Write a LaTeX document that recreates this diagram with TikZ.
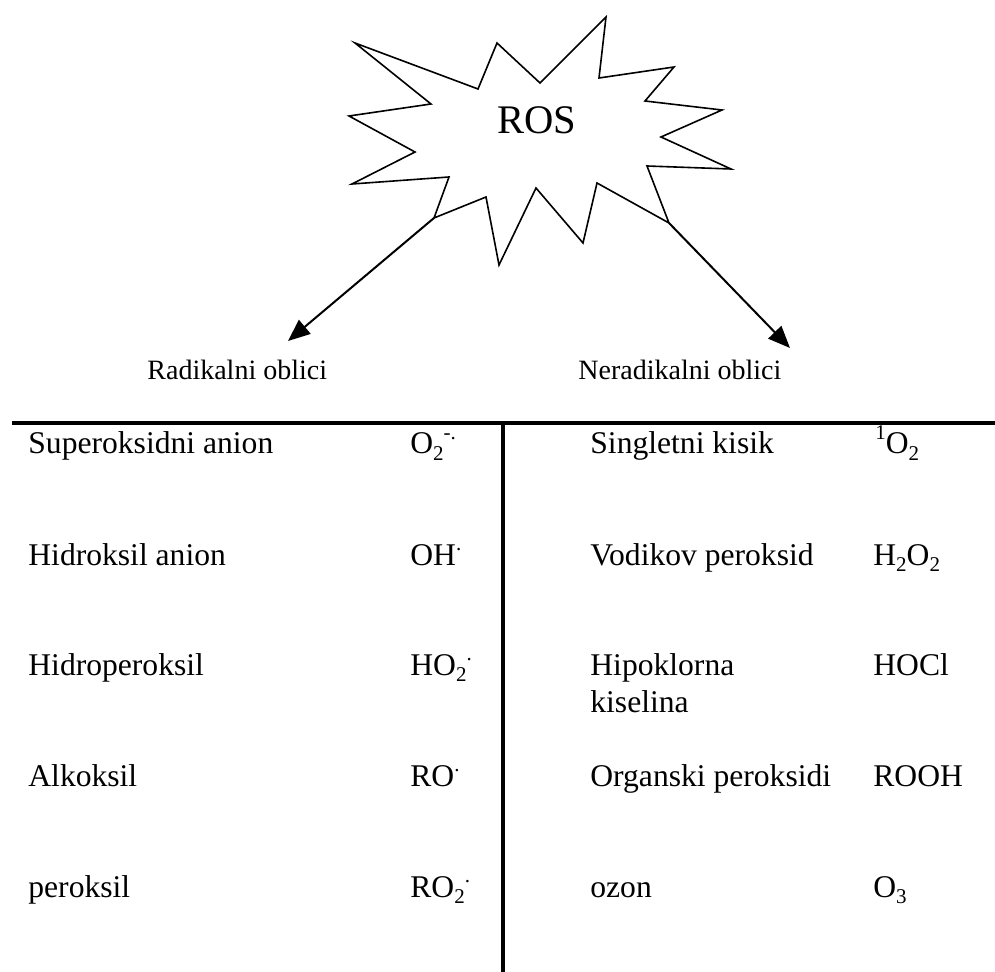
\documentclass[tikz,border=0pt]{standalone}
\usepackage{fontspec}
\setmainfont{Liberation Serif}
\usetikzlibrary{arrows.meta, positioning}
\newcommand{\chsub}[1]{\raisebox{-0.22em}{\fontsize{10.5pt}{11pt}\selectfont #1}}
\newcommand{\chsup}[1]{\raisebox{0.45em}{\fontsize{10.5pt}{11pt}\selectfont #1}}

\begin{document}
\begin{tikzpicture}[x=0.5pt, y=-0.5pt, font=\fontsize{15.8pt}{19pt}\selectfont,
		txt/.style={anchor=base west, inner sep=0pt},
		label/.style={anchor=base west, inner sep=0pt, font=\fontsize{14pt}{17pt}\selectfont},
		rule/.style={line width=1.6pt},
		tip/.style={line width=1pt, -{Triangle[length=11pt, width=9pt]}}]
		\useasboundingbox (0, 0) rectangle (995, 972);
		% the burst round ROS
		\draw [line width=0.8pt, line join=miter] (355, 43) -- (478, 89) -- (497, 43) -- (540, 83) -- (606, 17) -- (599, 78) -- (674, 67) -- (645, 101) -- (722, 110) -- (661, 137) -- (731, 169) -- (647, 166) -- (669, 223) coordinate (burstR) -- (597, 183) -- (583, 243) -- (536, 188) -- (499, 265) -- (486, 197) -- (434, 218) coordinate (burstL) -- (449, 177) -- (352, 184) -- (415, 152) -- (349, 116) -- (431, 104) -- cycle;
		\node [anchor=base, inner sep=0pt] (ros) at (537, 134) {\fontsize{20.3pt}{24pt}\selectfont ROS};
		\node [label] (rad) at (147, 380) {Radikalni oblici};
		\node [label] (nerad) at (578, 380) {Neradikalni oblici};
		\coordinate (radTip) at (288, 341);
		\coordinate (neradTip) at (790, 348);
		\draw [tip] (burstL) -- (radTip);
		\draw [tip] (burstR) -- (neradTip);
		% table
		\coordinate (tabL) at (12, 423);
		\coordinate (tabR) at (995, 423);
		\coordinate (midTop) at (503, 423);
		\coordinate (midBot) at (503, 972);
		\draw [rule] (tabL) -- (tabR);
		\draw [rule] (midTop) -- (midBot);
		% radikalni
		\node [txt] (superoks) at (28, 454) {Superoksidni anion};
		\node [txt] (superoksF) at (410, 454) {O\chsub{2}\chsup{-.}};
		\node [txt] (hidroks) at (28, 565) {Hidroksil anion};
		\node [txt] (hidroksF) at (410, 565) {OH\chsup{.}};
		\node [txt] (hidroper) at (28, 675) {Hidroperoksil};
		\node [txt] (hidroperF) at (410, 675) {HO\chsub{2}\chsup{.}};
		\node [txt] (alkoks) at (28, 786) {Alkoksil};
		\node [txt] (alkoksF) at (410, 786) {RO\chsup{.}};
		\node [txt] (peroks) at (28, 897) {peroksil};
		\node [txt] (peroksF) at (410, 897) {RO\chsub{2}\chsup{.}};
		% neradikalni
		\node [txt] (singlet) at (590, 454) {Singletni kisik};
		\node [txt] (singletF) at (875, 454) {\chsup{1}O\chsub{2}};
		\node [txt] (vodik) at (590, 565) {Vodikov peroksid};
		\node [txt] (vodikF) at (873, 565) {H\chsub{2}O\chsub{2}};
		\node [txt] (hipo) at (590, 675) {Hipoklorna};
		\node [txt] (hipo2) at (590, 712) {kiselina};
		\node [txt] (hipoF) at (873, 675) {HOCl};
		\node [txt] (organ) at (590, 786) {Organski peroksidi};
		\node [txt] (organF) at (873, 786) {ROOH};
		\node [txt] (ozon) at (590, 897) {ozon};
		\node [txt] (ozonF) at (873, 897) {O\chsub{3}};
	\end{tikzpicture}
\end{document}
